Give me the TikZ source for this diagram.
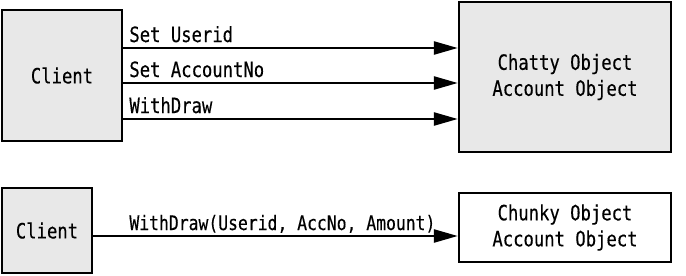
\documentclass[tikz,border=0pt]{standalone}
\usepackage{fontspec}
\setmonofont[FakeStretch=0.82,FakeBold=0.3]{DejaVu Sans Mono}
\usetikzlibrary{arrows.meta}
\definecolor{boxgray}{HTML}{E8E8E8}
\tikzset{
  obj/.style={draw, line width=2.4pt, inner sep=0pt, align=center,
    font=\ttfamily\fontsize{21}{26}\selectfont},
  msg/.style={line width=2.5pt, -{Triangle[length=24pt,width=13pt]}},
  msglabel/.style={anchor=base west, inner sep=0pt,
    font=\ttfamily\fontsize{21}{26}\selectfont}
}
\begin{document}
\begin{tikzpicture}[x=1pt,y=-1pt]
    \useasboundingbox (0,0) rectangle (686,276);
    % chatty interface
    \node[obj, fill=boxgray, minimum width=120, minimum height=131] (client1) at (62,75.5) {Client};
    \node[obj, fill=boxgray, minimum width=212, minimum height=150] (chatty) at (565,77) {Chatty Object\\Account Object};
    \foreach \y/\txt in {48/Set Userid, 83/Set AccountNo, 119/WithDraw} {
        \coordinate (from) at (client1.east |- 0,\y);
        \draw[msg] (from) -- (chatty.west |- from);
        \node[msglabel] at ([xshift=6,yshift=6]from) {\txt};
    }
    % chunky interface
    \node[obj, fill=boxgray, minimum width=90, minimum height=85] (client2) at (47,230.5) {Client};
    \node[obj, fill=white, minimum width=212, minimum height=69] (chunky) at (565,227.5) {Chunky Object\\Account Object};
    \coordinate (from2) at (client2.east |- 0,236);
    \draw[msg] (from2) -- (chunky.west |- from2);
    \node[msglabel, font=\ttfamily\fontsize{20}{26}\selectfont] at ([xshift=36,yshift=6]from2) {WithDraw(Userid, AccNo, Amount)};
\end{tikzpicture}
\end{document}
